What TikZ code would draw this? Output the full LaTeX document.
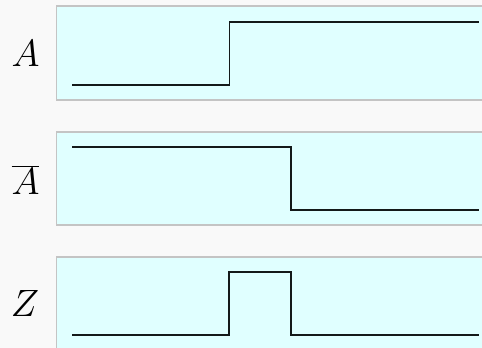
\documentclass[tikz,border=0pt]{standalone}
\usepackage{graphicx}
\definecolor{bgcol}{RGB}{249,249,249}
\definecolor{panelfill}{RGB}{224,255,255}
\definecolor{sigcol}{RGB}{20,25,25}
\definecolor{bordercol}{RGB}{196,196,196}
\newcommand{\biglbl}[1]{\scalebox{1.53}{\Huge$#1$}}
\begin{document}
\begin{tikzpicture}[x=1pt,y=-1pt,
  panel/.style={draw=bordercol,fill=panelfill,line width=1.4pt},
  sig/.style={draw=sigcol,line width=1.5pt},
  lbl/.style={inner sep=0pt}]
\useasboundingbox (0,0) rectangle (482,348);
\clip (0,0) rectangle (482,348);
\fill[bgcol] (0,0) rectangle (482,348);
% panels
\draw[panel] (56.5,6) rectangle (495,100);
\draw[panel] (56.5,132) rectangle (495,225);
\draw[panel] (56.5,257) rectangle (495,360);
% labels
\node[lbl] (la) at (25.5,53) {\biglbl{A}};
\node[lbl] (lna) at (25.5,179.5) {\biglbl{\overline{A}}};
\node[lbl] (lz) at (25,303) {\biglbl{Z}};
% signals
\draw[sig] (72,85) -- (229.5,85) -- (229.5,22) -- (479,22);
\draw[sig] (72,147) -- (291,147) -- (291,210) -- (479,210);
\draw[sig] (72,335) -- (229,335) -- (229,272) -- (291,272) -- (291,335) -- (479,335);
\end{tikzpicture}
\end{document}
